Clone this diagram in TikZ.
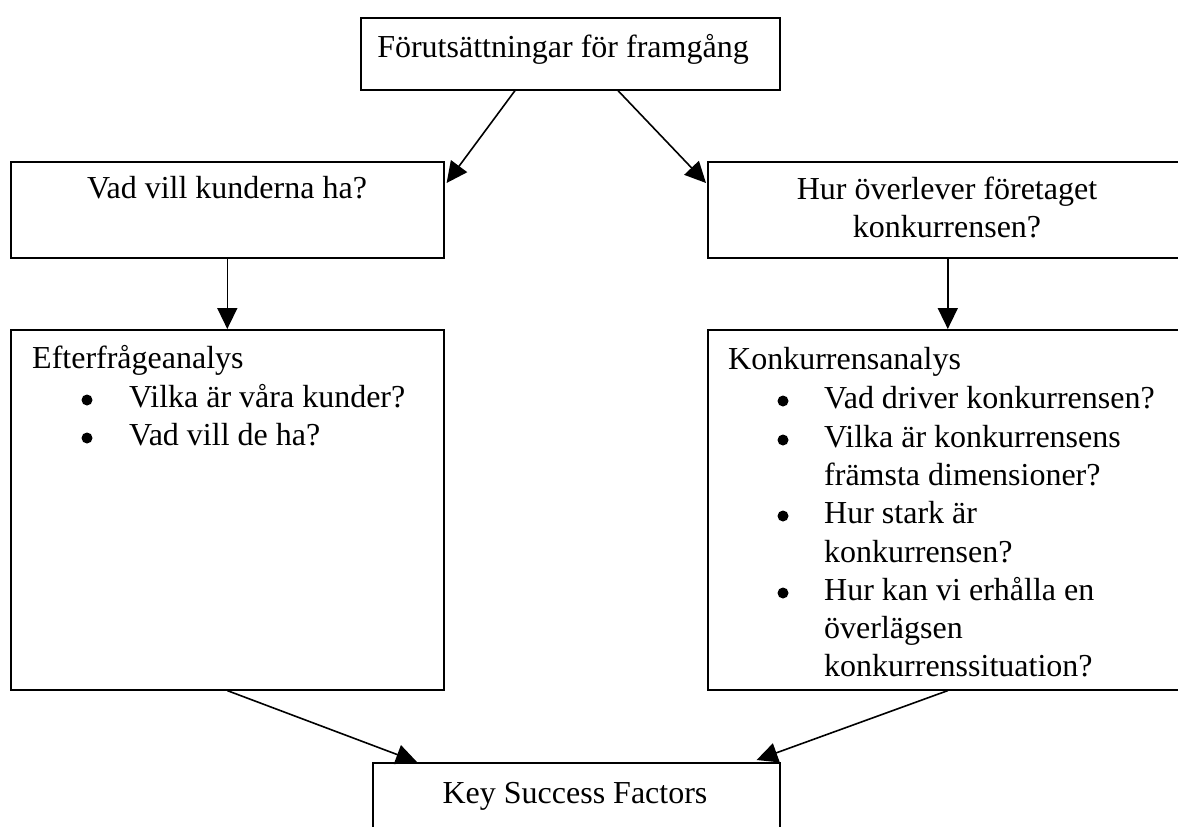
\documentclass[tikz,border=0pt]{standalone}
\usepackage{fontspec}
\setmainfont{Liberation Serif}
\usetikzlibrary{arrows.meta}
\begin{document}
\begin{tikzpicture}[x=1pt,y=-1pt,
  box/.style={draw, line width=1.6pt, inner sep=0pt, anchor=north west},
  txt/.style={font=\fontsize{32}{38}\selectfont, inner sep=0pt},
  lbl/.style={txt, anchor=base west},
  ctr/.style={txt, anchor=base},
  dot/.style={circle, fill=black, inner sep=0pt, minimum size=11pt},
  arr/.style={line width=1.6pt, -{Triangle[length=21pt,width=20pt]}}]
\clip (0,0) rectangle (1178,827);
\fill[white] (0,0) rectangle (1178,827);

% boxes
\node[box, minimum width=419pt, minimum height=72pt]  (top)  at (360,17)  {};
\node[box, minimum width=433pt, minimum height=96pt]  (vad)  at (10,161)  {};
\node[box, minimum width=480pt, minimum height=96pt]  (hur)  at (707,161) {};
\node[box, minimum width=433pt, minimum height=360pt] (eft)  at (10,329)  {};
\node[box, minimum width=480pt, minimum height=360pt] (konk) at (707,329) {};
\node[box, minimum width=407pt, minimum height=100pt] (ksf)  at (372,762) {};

% titles
\node[ctr] (topT) at (563,57)  {Förutsättningar för framgång};
\node[ctr] (vadT) at (227,198) {Vad vill kunderna ha?};
\node[ctr] (hurT1) at (947,199) {Hur överlever företaget};
\node[ctr] (hurT2) at (947,237) {konkurrensen?};
\node[ctr] (ksfT) at (575,803) {Key Success Factors};

% demand analysis
\node[lbl] (eftH) at (32,368) {Efterfrågeanalys};
\node[dot] (eb1) at (87,400) {};
\node[lbl] (el1) at (129,407) {Vilka är våra kunder?};
\node[dot] (eb2) at (87,438) {};
\node[lbl] (el2) at (129,445) {Vad vill de ha?};

% competition analysis
\node[lbl] (kH) at (728,369) {Konkurrensanalys};
\node[dot] (kb1) at (783,401) {};
\node[lbl] (kl1) at (824,408) {Vad driver konkurrensen?};
\node[dot] (kb2) at (783,440) {};
\node[lbl] (kl2) at (824,447) {Vilka är konkurrensens};
\node[lbl] (kl3) at (824,485) {främsta dimensioner?};
\node[dot] (kb3) at (783,516) {};
\node[lbl] (kl4) at (824,523) {Hur stark är};
\node[lbl] (kl5) at (824,562) {konkurrensen?};
\node[dot] (kb4) at (783,593) {};
\node[lbl] (kl6) at (824,600) {Hur kan vi erhålla en};
\node[lbl] (kl7) at (824,638) {överlägsen};
\node[lbl] (kl8) at (824,676) {konkurrenssituation?};

% connectors
\draw[arr] ([xshift=155pt]top.south west) -- ([xshift=2pt,yshift=-22pt]vad.north east);
\draw[arr] ([xshift=258pt]top.south west) -- ([xshift=-1pt,yshift=-22pt]hur.north west);
\draw[arr] (vad.south) -- (eft.north);
\draw[arr] (hur.south) -- (konk.north);
\draw[arr] (eft.south) -- ([xshift=45pt]ksf.north west);
\draw[arr] (konk.south) -- ([xshift=-24pt,yshift=2pt]ksf.north east);
\end{tikzpicture}
\end{document}
